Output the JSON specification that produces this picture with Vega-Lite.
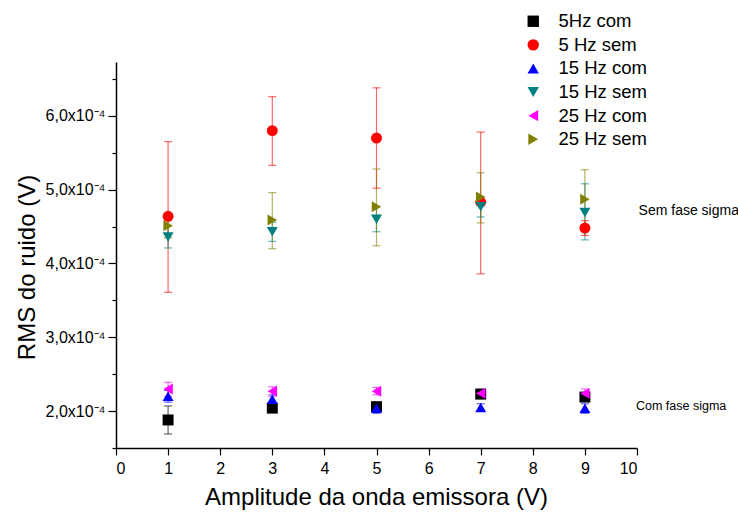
{
  "$schema": "https://vega.github.io/schema/vega-lite/v6.json",
  "width": 521,
  "height": 386,
  "autosize": "none",
  "padding": {"left": 116, "top": 62, "right": 101, "bottom": 64},
  "background": "white",
  "config": {
    "view": {"stroke": null},
    "font": "Liberation Sans",
    "axis": {"domainColor": "black", "tickColor": "black", "labelColor": "black", "titleColor": "black", "labelFontSize": 16, "titleFontSize": 24, "titleFontWeight": "normal", "grid": false, "domainWidth": 1.5, "tickWidth": 1.2, "labelFont": "Liberation Sans", "titleFont": "Liberation Sans"}
  },
  "datasets": {
    "pts": [
      {"amp": 1, "serie": "5Hz com", "rms": 1.88e-4, "lo": 1.69e-4, "hi": 2.07e-4},
      {"amp": 3, "serie": "5Hz com", "rms": 2.04e-4, "lo": 2.00e-4, "hi": 2.08e-4},
      {"amp": 5, "serie": "5Hz com", "rms": 2.06e-4, "lo": 2.00e-4, "hi": 2.12e-4},
      {"amp": 7, "serie": "5Hz com", "rms": 2.23e-4, "lo": 2.18e-4, "hi": 2.27e-4},
      {"amp": 9, "serie": "5Hz com", "rms": 2.19e-4, "lo": 2.15e-4, "hi": 2.25e-4},
      {"amp": 1, "serie": "5 Hz sem", "rms": 4.64e-4, "lo": 3.61e-4, "hi": 5.65e-4},
      {"amp": 3, "serie": "5 Hz sem", "rms": 5.80e-4, "lo": 5.33e-4, "hi": 6.26e-4},
      {"amp": 5, "serie": "5 Hz sem", "rms": 5.70e-4, "lo": 5.02e-4, "hi": 6.38e-4},
      {"amp": 7, "serie": "5 Hz sem", "rms": 4.83e-4, "lo": 3.86e-4, "hi": 5.78e-4},
      {"amp": 9, "serie": "5 Hz sem", "rms": 4.48e-4, "lo": 4.38e-4, "hi": 4.58e-4},
      {"amp": 1, "serie": "15 Hz com", "rms": 2.20e-4, "lo": 2.12e-4, "hi": 2.28e-4},
      {"amp": 3, "serie": "15 Hz com", "rms": 2.16e-4, "lo": 2.10e-4, "hi": 2.22e-4},
      {"amp": 5, "serie": "15 Hz com", "rms": 2.04e-4, "lo": 1.97e-4, "hi": 2.11e-4},
      {"amp": 7, "serie": "15 Hz com", "rms": 2.05e-4, "lo": 2.00e-4, "hi": 2.10e-4},
      {"amp": 9, "serie": "15 Hz com", "rms": 2.04e-4, "lo": 1.97e-4, "hi": 2.10e-4},
      {"amp": 1, "serie": "15 Hz sem", "rms": 4.36e-4, "lo": 4.21e-4, "hi": 4.51e-4},
      {"amp": 3, "serie": "15 Hz sem", "rms": 4.43e-4, "lo": 4.30e-4, "hi": 4.56e-4},
      {"amp": 5, "serie": "15 Hz sem", "rms": 4.60e-4, "lo": 4.43e-4, "hi": 4.77e-4},
      {"amp": 7, "serie": "15 Hz sem", "rms": 4.77e-4, "lo": 4.63e-4, "hi": 4.90e-4},
      {"amp": 9, "serie": "15 Hz sem", "rms": 4.69e-4, "lo": 4.32e-4, "hi": 5.08e-4},
      {"amp": 1, "serie": "25 Hz com", "rms": 2.30e-4, "lo": 2.20e-4, "hi": 2.39e-4},
      {"amp": 3, "serie": "25 Hz com", "rms": 2.27e-4, "lo": 2.20e-4, "hi": 2.33e-4},
      {"amp": 5, "serie": "25 Hz com", "rms": 2.27e-4, "lo": 2.22e-4, "hi": 2.32e-4},
      {"amp": 7, "serie": "25 Hz com", "rms": 2.24e-4, "lo": 2.18e-4, "hi": 2.30e-4},
      {"amp": 9, "serie": "25 Hz com", "rms": 2.24e-4, "lo": 2.18e-4, "hi": 2.30e-4},
      {"amp": 1, "serie": "25 Hz sem", "rms": 4.51e-4, "lo": 4.35e-4, "hi": 4.68e-4},
      {"amp": 3, "serie": "25 Hz sem", "rms": 4.59e-4, "lo": 4.20e-4, "hi": 4.96e-4},
      {"amp": 5, "serie": "25 Hz sem", "rms": 4.77e-4, "lo": 4.24e-4, "hi": 5.28e-4},
      {"amp": 7, "serie": "25 Hz sem", "rms": 4.90e-4, "lo": 4.55e-4, "hi": 5.23e-4},
      {"amp": 9, "serie": "25 Hz sem", "rms": 4.87e-4, "lo": 4.45e-4, "hi": 5.27e-4}
    ],
    "notes": [
      {"amp": 10.03, "rms": 4.71e-4, "txt": "Sem fase sigma", "fs": "big"},
      {"amp": 9.98, "rms": 2.07e-4, "txt": "Com fase sigma", "fs": "small"}
    ]
  },
  "resolve": {"axis": {"y": "independent"}},
  "layer": [
    {
      "data": {"name": "pts"},
      "mark": {"type": "rule", "opacity": 0.6, "strokeWidth": 1.2},
      "encoding": {
        "x": {"field": "amp", "type": "quantitative", "scale": {"domain": [0, 10], "nice": false}, "axis": {"values": [0,1,2,3,4,5,6,7,8,9,10], "title": "Amplitude da onda emissora (V)", "tickSize": 7, "labelPadding": 5, "titleX": 260, "titleY": 49, "titleBaseline": "middle", "titleAlign": "center"}},
        "y": {"field": "lo", "type": "quantitative", "scale": {"domain": [1.5e-4, 6.73e-4], "nice": false, "zero": false}, "axis": {"values": [2e-4, 3e-4, 4e-4, 5e-4, 6e-4], "tickSize": 8, "labelPadding": 3, "labelExpr": "replace(format(datum.value*1e4, '.1f'), '.', ',') + 'x10⁻⁴'", "title": "RMS do ruido (V)", "titleAngle": -90, "titleX": -89, "titleY": 205, "titleBaseline": "middle", "titleAlign": "center", "orient": "left"}},
        "y2": {"field": "hi"},
        "color": {"field": "serie", "type": "nominal"}
      }
    },
    {
      "data": {"name": "pts"},
      "mark": {"type": "tick", "orient": "horizontal", "size": 8, "thickness": 1.2, "opacity": 0.6},
      "encoding": {
        "x": {"field": "amp", "type": "quantitative"},
        "y": {"field": "lo", "type": "quantitative", "axis": null},
        "color": {"field": "serie", "type": "nominal"}
      }
    },
    {
      "data": {"name": "pts"},
      "mark": {"type": "tick", "orient": "horizontal", "size": 8, "thickness": 1.2, "opacity": 0.6},
      "encoding": {
        "x": {"field": "amp", "type": "quantitative"},
        "y": {"field": "hi", "type": "quantitative", "axis": null},
        "color": {"field": "serie", "type": "nominal"}
      }
    },
    {
      "data": {"name": "pts"},
      "mark": {"type": "point", "filled": true, "opacity": 1, "size": 120},
      "encoding": {
        "x": {"field": "amp", "type": "quantitative"},
        "y": {"field": "rms", "type": "quantitative", "axis": {"values": [1.5e-4, 2.5e-4, 3.5e-4, 4.5e-4, 5.5e-4, 6.5e-4], "tickSize": 4, "labels": false, "domain": false, "title": null, "orient": "left"}},
        "color": {"field": "serie", "type": "nominal", "scale": {"domain": ["5Hz com", "5 Hz sem", "15 Hz com", "15 Hz sem", "25 Hz com", "25 Hz sem"], "range": ["#000000", "#ff0000", "#0000ff", "#008080", "#ff00ff", "#808000"]}, "legend": {"orient": "none", "legendX": 408, "legendY": -50, "title": null, "labelFontSize": 18.5, "labelFont": "Liberation Sans", "labelColor": "black", "symbolSize": 130, "symbolOpacity": 1, "rowPadding": 4.6, "padding": 0, "labelOffset": 16, "symbolStrokeWidth": 0, "encode": {"symbols": {"update": {"opacity": {"value": 1}, "fillOpacity": {"value": 1}}}}}},
        "shape": {"field": "serie", "type": "nominal", "scale": {"domain": ["5Hz com", "5 Hz sem", "15 Hz com", "15 Hz sem", "25 Hz com", "25 Hz sem"], "range": ["square", "circle", "triangle-up", "triangle-down", "triangle-left", "triangle-right"]}}
      }
    },
    {
      "data": {"name": "notes"},
      "transform": [{"filter": "datum.fs == 'big'"}],
      "mark": {"type": "text", "align": "left", "baseline": "middle", "fontSize": 14, "color": "black", "font": "Liberation Sans"},
      "encoding": {
        "x": {"field": "amp", "type": "quantitative"},
        "y": {"field": "rms", "type": "quantitative", "axis": null},
        "text": {"field": "txt"}
      }
    },
    {
      "data": {"name": "notes"},
      "transform": [{"filter": "datum.fs == 'small'"}],
      "mark": {"type": "text", "align": "left", "baseline": "middle", "fontSize": 12.5, "color": "black", "font": "Liberation Sans"},
      "encoding": {
        "x": {"field": "amp", "type": "quantitative"},
        "y": {"field": "rms", "type": "quantitative", "axis": null},
        "text": {"field": "txt"}
      }
    }
  ]
}
